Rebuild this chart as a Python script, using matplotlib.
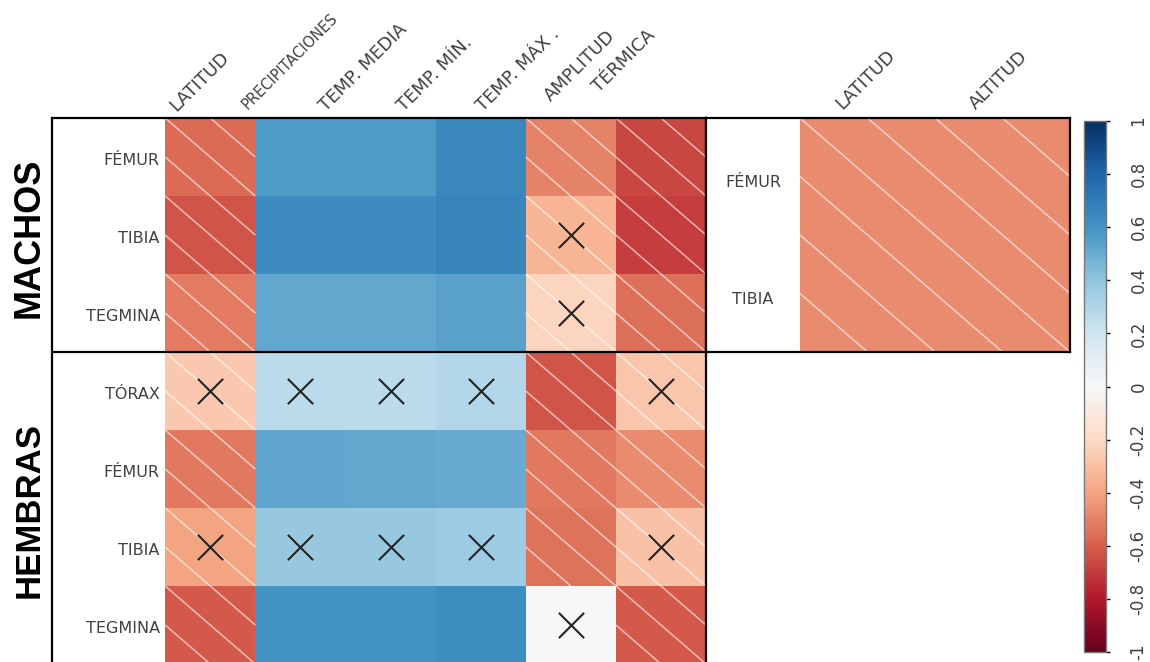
import numpy as np
import matplotlib
matplotlib.use('Agg')
import matplotlib.pyplot as plt
from matplotlib.collections import LineCollection
from matplotlib.colors import Normalize
from matplotlib.cm import ScalarMappable

# --- data -------------------------------------------------------------
cols_left = ["LATITUD", "PRECIPITACIONES", "TEMP. MEDIA", "TEMP. MÍN.", "TEMP. MÁX .", "AMPLITUD", "TÉRMICA"]
rows_machos = ["FÉMUR", "TIBIA", "TEGMINA"]
rows_hembras = ["TÓRAX", "FÉMUR", "TIBIA", "TEGMINA"]

vals_machos = [[-0.57, 0.57, 0.57, 0.65, -0.50, -0.67],
               [-0.63, 0.63, 0.63, 0.66, -0.34, -0.69],
               [-0.52, 0.52, 0.52, 0.54, -0.22, -0.55]]
ns_machos = [[0, 0, 0, 0, 0, 0],
             [0, 0, 0, 0, 1, 0],
             [0, 0, 0, 0, 1, 0]]

vals_hembras = [[-0.27, 0.27, 0.27, 0.29, -0.63, -0.28],
                [-0.53, 0.53, 0.52, 0.50, -0.53, -0.47],
                [-0.40, 0.38, 0.38, 0.36, -0.54, -0.29],
                [-0.61, 0.60, 0.60, 0.62, 0.00, -0.61]]
ns_hembras = [[1, 1, 1, 1, 0, 1],
              [0, 0, 0, 0, 0, 0],
              [1, 1, 1, 1, 0, 1],
              [0, 0, 0, 0, 1, 0]]

cols_right = ["LATITUD", "ALTITUD"]
rows_right = ["FÉMUR", "TIBIA"]
vals_right = [[-0.47, -0.47],
              [-0.47, -0.47]]
ns_right = [[0, 0],
            [0, 0]]

cbar_ticks = [-1, -0.8, -0.6, -0.4, -0.2, 0, 0.2, 0.4, 0.6, 0.8, 1]

# --- layout (pixels of a 1150x662 canvas) -------------------------------
W, H = 1150, 662
fig = plt.figure(figsize=(W / 100, H / 100), dpi=100)


def px_axes(x0, y0, x1, y1):
    return fig.add_axes([x0 / W, 1 - y1 / H, (x1 - x0) / W, (y1 - y0) / H])


cmap = plt.get_cmap('RdBu')
norm = Normalize(-1, 1)
lab_color = '#404040'


def draw_block(ax, vals, ns):
    vals = np.array(vals)
    nr, nc = vals.shape
    ax.pcolormesh(np.arange(nc + 1), np.arange(nr + 1), vals, cmap=cmap, norm=norm)
    segs = []
    xs, ys = [], []
    for i in range(nr):
        for j in range(nc):
            if vals[i, j] < 0:
                segs.append([(j, i), (j + 1, i + 1)])
                segs.append([(j + 0.5, i), (j + 1, i + 0.5)])
                segs.append([(j, i + 0.5), (j + 0.5, i + 1)])
            if ns[i][j]:
                xs.append(j + 0.5)
                ys.append(i + 0.5)
    ax.add_collection(LineCollection(segs, colors='white', alpha=0.6, linewidths=1.1))
    ax.scatter(xs, ys, marker='x', s=330, color='#222222', linewidths=1.5, zorder=3)


# left block: label column (113 px) + 6 columns of 90 px, rows of 78 px
axL = px_axes(52, 118, 706, 664)
vals_left = vals_machos + vals_hembras
ns_left = ns_machos + ns_hembras
draw_block(axL, vals_left, ns_left)
axL.set_xlim(-113 / 90, 6)
axL.set_ylim(7, 0)
axL.set_xticks([])
axL.set_yticks([])
for s in axL.spines.values():
    s.set_linewidth(1.6)
axL.axhline(3, color='black', lw=1.6)

for i, r in enumerate(rows_machos + rows_hembras):
    axL.text(-0.06, i + 0.55, r, ha='right', va='center', fontsize=11.5, color=lab_color)

# column label anchors (data units)
lab_x = [0.12, 0.92, 1.78, 2.65, 3.53, 4.28, 4.81]
lab_y = [-0.08, -0.10, -0.08, -0.08, -0.08, -0.21, -0.32]
lab_fs = [13, 10.5, 13, 13, 13, 13, 13]
for t, x, y, fs in zip(cols_left, lab_x, lab_y, lab_fs):
    axL.text(x, y, t, rotation=45, rotation_mode='anchor', ha='left', va='baseline',
             fontsize=fs, color=lab_color, clip_on=False)

# right block: label column (94 px) + 2 columns of 135 px, rows of 117 px
axR = px_axes(706, 118, 1070, 352)
draw_block(axR, vals_right, ns_right)
axR.set_xlim(-94 / 135, 2)
axR.set_ylim(2, 0)
axR.set_xticks([])
axR.set_yticks([])
for s in axR.spines.values():
    s.set_linewidth(1.6)
for i, r in enumerate(rows_right):
    axR.text(-94 / 135 / 2, i + 0.55, r, ha='center', va='center', fontsize=11.5, color=lab_color)
for t, x in zip(cols_right, [0.31, 1.30]):
    axR.text(x, -0.07, t, rotation=45, rotation_mode='anchor', ha='left', va='baseline',
             fontsize=13, color=lab_color, clip_on=False)

# group titles
big_font = ['Liberation Sans', 'DejaVu Sans']
fig.text(29 / W, 1 - 238 / H, "MACHOS", rotation=90, ha='center', va='center',
         fontsize=26, fontweight='bold', family=big_font)
fig.text(29 / W, 1 - 510 / H, "HEMBRAS", rotation=90, ha='center', va='center',
         fontsize=25, fontweight='bold', family=big_font)

# colorbar
cax = px_axes(1084, 121, 1106, 652)
cb = fig.colorbar(ScalarMappable(norm=norm, cmap=cmap), cax=cax, ticks=cbar_ticks)
cb.outline.set_edgecolor('#777777')
cb.outline.set_linewidth(1)
cax.tick_params(length=3, width=1, pad=14, colors='black', labelcolor=lab_color, labelsize=12)
cax.set_yticklabels([('%g' % t) for t in cbar_ticks], rotation=90, va='center')

plt.savefig('out.png', dpi=100)
